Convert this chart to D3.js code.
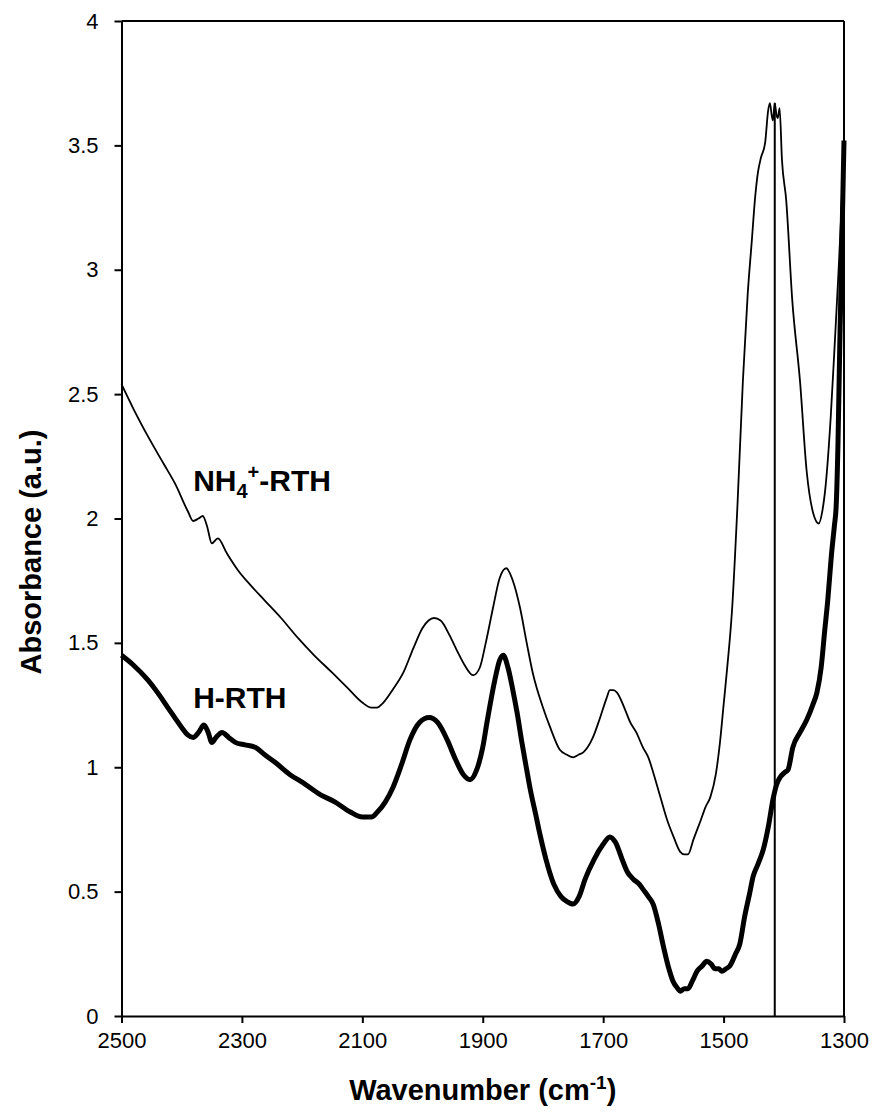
<!DOCTYPE html>
<html lang="en">
<head>
    <meta charset="utf-8">
    <title>FTIR spectra: NH4+-RTH and H-RTH</title>
    <style>
        body {
            margin: 0;
            padding: 0;
            background: #fff;
            font-family: "Liberation Sans", Arial, sans-serif;
        }
        .axis path, .axis line {
            stroke: #000;
            stroke-width: 2px;
        }
        .axis text {
            fill: #000;
        }
        .title {
            font-size: 29px;
            font-weight: bold;
        }
        .label {
            font-size: 30px;
            font-weight: bold;
        }
    </style>
</head>
<body>

<div id="chart"></div>

<script src="https://d3js.org/d3.v7.min.js"></script>

<script>
  // wavenumber (cm-1) / absorbance pairs
  const nh4Wave = [2500, 2480, 2456, 2430, 2411, 2390, 2381, 2372, 2365, 2358, 2350, 2340, 2325, 2306, 2285,
    2262, 2235, 2207, 2180, 2150, 2125, 2100, 2085, 2076, 2065, 2050, 2032, 2015, 2000, 1990, 1981, 1970,
    1955, 1943, 1930, 1916, 1905, 1895, 1883, 1872, 1861, 1850, 1838, 1827, 1817, 1800, 1788, 1772, 1760,
    1750, 1741, 1733, 1717, 1705, 1694, 1689, 1683, 1677, 1665, 1655, 1645, 1634, 1625, 1617, 1605, 1594,
    1583, 1572, 1565, 1559, 1550, 1539, 1530, 1522, 1513, 1506, 1500, 1494, 1486, 1477, 1468, 1460, 1453,
    1448, 1443, 1438, 1431, 1426, 1423, 1420, 1418, 1415, 1412, 1410, 1407, 1403, 1396, 1386, 1373, 1362,
    1351, 1342, 1336, 1331, 1322, 1315, 1310, 1305, 1300];
  const nh4Abs = [2.54, 2.44, 2.33, 2.22, 2.14, 2.03, 1.99, 2.00, 2.01, 1.97, 1.90, 1.92, 1.86, 1.79, 1.73,
    1.67, 1.60, 1.52, 1.45, 1.38, 1.32, 1.26, 1.24, 1.24, 1.26, 1.31, 1.38, 1.48, 1.56, 1.59, 1.60, 1.59,
    1.53, 1.47, 1.41, 1.37, 1.40, 1.50, 1.64, 1.76, 1.80, 1.75, 1.64, 1.50, 1.38, 1.24, 1.16, 1.07, 1.05,
    1.04, 1.05, 1.06, 1.12, 1.20, 1.28, 1.31, 1.31, 1.30, 1.24, 1.18, 1.14, 1.08, 1.04, 0.98, 0.88, 0.79,
    0.72, 0.66, 0.65, 0.65, 0.71, 0.78, 0.84, 0.88, 0.97, 1.10, 1.25, 1.40, 1.63, 2.05, 2.55, 2.90, 3.12,
    3.28, 3.39, 3.45, 3.51, 3.64, 3.67, 3.62, 3.60, 3.67, 3.62, 3.61, 3.65, 3.44, 3.28, 2.88, 2.55, 2.19,
    2.02, 1.98, 2.03, 2.12, 2.41, 2.72, 2.95, 3.20, 3.52];

  const hWave = [2500, 2480, 2456, 2440, 2423, 2400, 2390, 2381, 2372, 2363, 2356, 2350, 2343, 2333, 2322,
    2311, 2295, 2278, 2262, 2245, 2220, 2200, 2170, 2145, 2120, 2100, 2085, 2075, 2062, 2049, 2035, 2021,
    2005, 1989, 1975, 1959, 1945, 1932, 1921, 1910, 1900, 1893, 1880, 1872, 1866, 1858, 1850, 1843, 1835,
    1827, 1821, 1812, 1805, 1795, 1782, 1770, 1760, 1750, 1740, 1730, 1715, 1700, 1689, 1680, 1667, 1660,
    1650, 1640, 1634, 1625, 1617, 1608, 1600, 1592, 1584, 1576, 1572, 1565, 1559, 1552, 1544, 1536, 1528,
    1521, 1514, 1508, 1503, 1496, 1490, 1480, 1473, 1465, 1457, 1451, 1443, 1434, 1425, 1418, 1412, 1406,
    1398, 1393, 1385, 1373, 1362, 1352, 1345, 1338, 1332, 1327, 1321, 1316, 1313, 1310, 1307, 1304, 1300];
  const hAbs = [1.45, 1.41, 1.35, 1.30, 1.24, 1.16, 1.13, 1.12, 1.14, 1.17, 1.14, 1.10, 1.12, 1.14, 1.12,
    1.10, 1.09, 1.08, 1.05, 1.02, 0.97, 0.94, 0.89, 0.86, 0.82, 0.80, 0.80, 0.82, 0.86, 0.92, 1.01, 1.11,
    1.18, 1.20, 1.18, 1.11, 1.03, 0.97, 0.95, 0.99, 1.08, 1.18, 1.35, 1.43, 1.45, 1.40, 1.31, 1.22, 1.10,
    0.99, 0.91, 0.81, 0.73, 0.63, 0.53, 0.48, 0.46, 0.45, 0.48, 0.55, 0.63, 0.69, 0.72, 0.70, 0.62, 0.58,
    0.55, 0.53, 0.51, 0.48, 0.45, 0.37, 0.28, 0.20, 0.14, 0.11, 0.10, 0.11, 0.11, 0.14, 0.18, 0.20, 0.22,
    0.21, 0.19, 0.19, 0.18, 0.19, 0.20, 0.25, 0.29, 0.40, 0.49, 0.56, 0.61, 0.67, 0.77, 0.87, 0.93, 0.96,
    0.98, 0.99, 1.08, 1.14, 1.19, 1.25, 1.30, 1.40, 1.55, 1.67, 1.85, 1.97, 2.05, 2.30, 2.70, 3.05, 3.52];

  // vertical marker line at the NH4+ band
  const markerWave = [1415, 1415];
  const markerAbs = [0, 3.67];

  const xTicks = [2500, 2300, 2100, 1900, 1700, 1500, 1300];
  const yTicks = [0, 0.5, 1, 1.5, 2, 2.5, 3, 3.5, 4];

  const width = 881, height = 1114;
  const margin = {top: 21, right: 37, bottom: 98, left: 121.5};

  const svg = d3.select("#chart")
    .append("svg")
    .attr("width", width)
    .attr("height", height);

  const x = d3.scaleLinear()
    .domain([2500, 1300])
    .range([margin.left, width - margin.right]);

  const y = d3.scaleLinear()
    .domain([0, 4])
    .range([height - margin.bottom, margin.top]);

  const line = d3.line()
    .x(d => x(d[0]))
    .y(d => y(d[1]))
    .curve(d3.curveMonotoneX);

  const nh4 = nh4Wave.map((w, i) => [w, nh4Abs[i]]);
  const hrth = hWave.map((w, i) => [w, hAbs[i]]);
  const marker = markerWave.map((w, i) => [w, markerAbs[i]]);

  // frame on top and right
  svg.append("line")
    .attr("x1", x(2500)).attr("x2", x(1300))
    .attr("y1", y(4)).attr("y2", y(4))
    .attr("stroke", "#000").attr("stroke-width", 2);
  svg.append("line")
    .attr("x1", x(1300)).attr("x2", x(1300))
    .attr("y1", y(4)).attr("y2", y(0))
    .attr("stroke", "#000").attr("stroke-width", 2);

  // axes
  svg.append("g")
    .attr("class", "axis")
    .attr("transform", `translate(0,${y(0)})`)
    .call(d3.axisBottom(x).tickValues(xTicks).tickSize(7).tickSizeOuter(0).tickPadding(9)
      .tickFormat(d3.format("d")))
    .attr("font-size", 22)
    .attr("font-family", "Liberation Sans, Arial, sans-serif");

  svg.append("g")
    .attr("class", "axis")
    .attr("transform", `translate(${x(2500)},0)`)
    .call(d3.axisLeft(y).tickValues(yTicks).tickSize(7).tickSizeOuter(0).tickPadding(16)
      .tickFormat(d => String(d)))
    .attr("font-size", 22)
    .attr("font-family", "Liberation Sans, Arial, sans-serif");

  // spectra
  svg.append("path")
    .datum(marker)
    .attr("d", d3.line().x(d => x(d[0])).y(d => y(d[1])))
    .attr("fill", "none")
    .attr("stroke", "#000")
    .attr("stroke-width", 2);

  svg.append("path")
    .datum(nh4)
    .attr("d", line)
    .attr("fill", "none")
    .attr("stroke", "#000")
    .attr("stroke-width", 1.8)
    .attr("stroke-linejoin", "round");

  svg.append("path")
    .datum(hrth)
    .attr("d", line)
    .attr("fill", "none")
    .attr("stroke", "#000")
    .attr("stroke-width", 5)
    .attr("stroke-linejoin", "round");

  // series labels
  const nh4Label = svg.append("text")
    .attr("class", "label")
    .attr("x", x(2381))
    .attr("y", y(2.11));
  nh4Label.append("tspan").text("NH");
  nh4Label.append("tspan").attr("font-size", "20px").attr("dy", 7).text("4");
  nh4Label.append("tspan").attr("font-size", "20px").attr("dy", -19).text("+");
  nh4Label.append("tspan").attr("dy", 12).text("-RTH");

  svg.append("text")
    .attr("class", "label")
    .attr("x", x(2381))
    .attr("y", y(1.24))
    .text("H-RTH");

  // axis titles
  const xTitle = svg.append("text")
    .attr("class", "title")
    .attr("text-anchor", "middle")
    .attr("x", (x(2500) + x(1300)) / 2)
    .attr("y", 1100);
  xTitle.append("tspan").text("Wavenumber (cm");
  xTitle.append("tspan").attr("font-size", "19px").attr("dy", -11).text("-1");
  xTitle.append("tspan").attr("dy", 11).text(")");

  svg.append("text")
    .attr("class", "title")
    .attr("text-anchor", "middle")
    .attr("transform", "translate(41,552) rotate(-90)")
    .text("Absorbance (a.u.)");
</script>

</body>
</html>
